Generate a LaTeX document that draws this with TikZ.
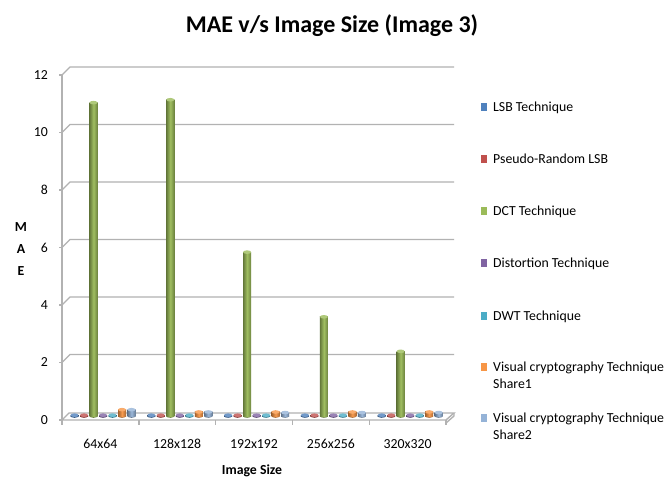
\documentclass[tikz,border=0pt]{standalone}
\usepackage{fontspec}
\setmainfont{Carlito}
\usetikzlibrary{positioning}

\definecolor{lsbcol}{HTML}{4F81BD}
\definecolor{prlcol}{HTML}{C0504D}
\definecolor{dctcol}{HTML}{9BBB59}
\definecolor{discol}{HTML}{8064A2}
\definecolor{dwtcol}{HTML}{4BACC6}
\definecolor{vconecol}{HTML}{F79646}
\definecolor{vctwocol}{HTML}{95B3D7}
\definecolor{gridcol}{HTML}{B2B2B2}

% one cylinder: centre x, value, colour
\newcommand{\cylbar}[3]{%
  \pgfmathsetmacro{\barX}{#1}%
  \pgfmathsetmacro{\barTop}{416-28.75*#2}%
  \fill[#3!70!black] (\barX,416) ellipse (4 and 1.8);
  \fill[left color=#3!65!black, right color=#3!70!black, middle color=#3!95!white]
    (\barX-4,416) rectangle (\barX+4,\barTop);
  \fill[#3!80!white] (\barX,\barTop) ellipse (4 and 1.8);
}

\begin{document}
\begin{tikzpicture}[
    x=1pt, y=-1pt,
    grid/.style={draw=gridcol, line width=1.4pt},
    lbl/.style={font=\fontsize{13.8}{16}\selectfont, inner sep=0pt},
    albl/.style={font=\fontsize{13.8}{16}\selectfont\bfseries, inner sep=0pt},
    ttl/.style={font=\fontsize{24}{28}\selectfont\bfseries, inner sep=0pt},
    key/.style={minimum width=6.5pt, minimum height=7.5pt, inner sep=0pt}
]
    \useasboundingbox[fill=white] (0,0) rectangle (665,477);

    \node[ttl] (title) at (332,26) {MAE v/s Image Size (Image 3)};

    % floor and back wall
    \draw[grid, fill=white] (62,420) -- (446,420) -- (454,413) -- (69,413) -- cycle;
    \draw[grid] (446,420) -- (446,423) -- (454,416) -- (454,413);
    \foreach \v in {2,4,...,12} {
        \draw[grid] (62,420-28.75*\v) -- (70,412-28.75*\v) -- (454,412-28.75*\v);
    }
    \draw[grid] (62,75) -- (62,420);
    \foreach \v in {0,2,...,12} {
        \draw[grid] (59,420-28.75*\v) -- (62,420-28.75*\v);
        \node[lbl, anchor=east] (t\v) at (48,420-28.75*\v) {\v};
    }
    \foreach \k in {0,...,5} {
        \draw[grid] (62+76.8*\k,420) -- ++(0,5);
    }
    \foreach \t [count=\k from 0] in {64x64,128x128,192x192,256x256,320x320} {
        \node[lbl] (c\k) at (62+76.8*\k+38.4,444) {\t};
    }

    % bars
    \foreach \i/\col in {0/lsbcol,1/prlcol,3/discol,4/dwtcol} {
        \foreach \k in {0,...,4} {
            \cylbar{62+76.8*\k+12.5+9.5*\i}{0.03}{\col}
        }
    }
    \foreach \v [count=\k from 0] in {10.9,11.0,5.7,3.45,2.25} {
        \cylbar{62+76.8*\k+12.5+9.5*2}{\v}{dctcol}
    }
    \foreach \v [count=\k from 0] in {0.22,0.14,0.14,0.14,0.14} {
        \cylbar{62+76.8*\k+12.5+9.5*5}{\v}{vconecol}
    }
    \foreach \v [count=\k from 0] in {0.22,0.14,0.12,0.12,0.12} {
        \cylbar{62+76.8*\k+12.5+9.5*6}{\v}{vctwocol}
    }

    % axis titles
    \node[albl] (mL) at (21,227) {M};
    \node[albl] (aL) at (21,249) {A};
    \node[albl] (eL) at (21,271) {E};
    \node[albl, anchor=base] (xT) at (252,474) {Image Size};

    % legend
    \foreach \y/\col/\t [count=\n] in {107/lsbcol/LSB Technique, 159/prlcol/Pseudo-Random LSB,
        211/dctcol/DCT Technique, 263/discol/Distortion Technique, 316/dwtcol/DWT Technique,
        367/vconecol/Visual cryptography Technique, 418/vctwocol/Visual cryptography Technique} {
        \node[key, fill=\col] (k\n) at (484,\y) {};
        \node[lbl, anchor=base west] (e\n) at (493,\y+4.5) {\t};
    }
    \node[lbl, anchor=base west] (s6) at ([yshift=-17pt]e6.base west) {Share1};
    \node[lbl, anchor=base west] (s7) at ([yshift=-17pt]e7.base west) {Share2};
\end{tikzpicture}
\end{document}
